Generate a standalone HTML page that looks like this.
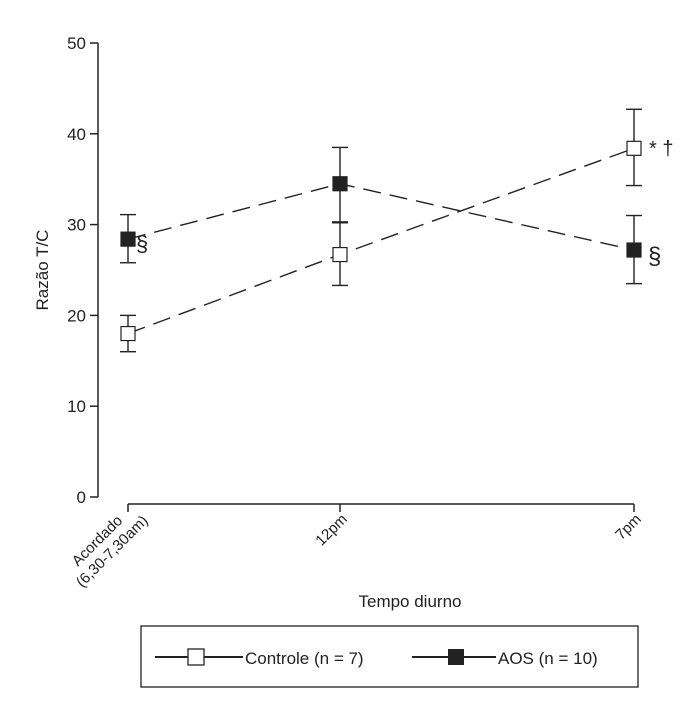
<!DOCTYPE html>
<html><head><meta charset="utf-8"><style>
body{margin:0;background:#fff;}
svg text{font-family:"Liberation Sans",sans-serif;fill:#222;}
</style></head><body>
<svg width="700" height="715">
<g id="axes"></g><g id="series"></g>
<text x="48" y="270" font-size="17" transform="rotate(-90 48 270)" text-anchor="middle">Razão T/C</text>
<text x="410" y="607" font-size="17" text-anchor="middle">Tempo diurno</text>
<text x="136" y="251" font-family="Liberation Serif" font-size="22">§</text>
<text x="649" y="155" font-size="20">* †</text>
<text x="648" y="264" font-family="Liberation Serif" font-size="24">§</text>
<g>
<rect x="141" y="626" width="497" height="61" fill="none" stroke="#222" stroke-width="1.3"/>
<line x1="155" y1="657" x2="243" y2="657" stroke="#222" stroke-width="2"/>
<rect x="188" y="649" width="16" height="16" fill="#fff" stroke="#222" stroke-width="1.3"/>
<text x="245" y="664" font-size="17">Controle (n = 7)</text>
<line x1="412" y1="657" x2="496" y2="657" stroke="#222" stroke-width="2"/>
<rect x="448" y="649" width="16" height="16" fill="#222"/>
<text x="498" y="664" font-size="17">AOS (n = 10)</text>
</g>
</svg>
<script>
const categories=["Acordado","12pm","7pm"];
const controleMean=[18,26.7,38.4];
const controleHi=[20,30.2,42.7];
const controleLo=[16,23.3,34.3];
const aosMean=[28.4,34.5,27.2];
const aosHi=[31.1,38.5,31];
const aosLo=[25.8,30.3,23.5];
const yTicks=[0,10,20,30,40,50];
const NS="http://www.w3.org/2000/svg";
const xPos=[128,340,634];
function x(i){return xPos[i];}
function y(v){return 497-v*9.08;}
function mk(tag,attrs,parent){const e=document.createElementNS(NS,tag);for(const k in attrs)e.setAttribute(k,attrs[k]);parent.appendChild(e);return e;}
const ax=document.getElementById('axes'),se=document.getElementById('series');
let l=mk('line',{x1:98,y1:y(50),x2:98,y2:y(0),stroke:'#222','stroke-width':1.5},ax);


yTicks.forEach(t=>{mk('line',{x1:90,y1:y(t),x2:98,y2:y(t),stroke:'#222','stroke-width':1.5},ax);
const tx=mk('text',{x:86,y:y(t)+6,'font-size':17,'text-anchor':'end'},ax);tx.textContent=t;

});
l=mk('line',{x1:x(0),y1:504,x2:x(2),y2:504,stroke:'#222','stroke-width':1.5},ax);


categories.forEach((c,i)=>mk('line',{x1:x(i),y1:504,x2:x(i),y2:512,stroke:'#222','stroke-width':1.5},ax));
const xl=[["Acordado","(6,30-7,30am)"],["12pm"],["7pm"]];
xl.forEach((lines,i)=>{const g=mk('text',{transform:`translate(${x(i)+8},520) rotate(-45)`,'font-size':15,'text-anchor':'end'},ax);


lines.forEach((s,j)=>{const ts=mk('tspan',{x:lines.length>1?(j==0?-10:8):0,y:lines.length>1?(j==0?-8:10):0},g);ts.textContent=s;});});
function series(mean,hi,lo,fill,name){
const pts=mean.map((v,i)=>x(i)+','+y(v)).join(' ');
const p=mk('polyline',{points:pts,fill:'none',stroke:'#222','stroke-width':1.4,'stroke-dasharray':'18,9'},se);


mean.forEach((v,i)=>{
mk('line',{x1:x(i),y1:y(hi[i]),x2:x(i),y2:y(lo[i]),stroke:'#222','stroke-width':1.4},se);
mk('line',{x1:x(i)-8,y1:y(hi[i]),x2:x(i)+8,y2:y(hi[i]),stroke:'#222','stroke-width':1.4},se);
mk('line',{x1:x(i)-8,y1:y(lo[i]),x2:x(i)+8,y2:y(lo[i]),stroke:'#222','stroke-width':1.4},se);
const r=mk('rect',{x:x(i)-7,y:y(v)-7,width:14,height:14,fill:fill,stroke:'#222','stroke-width':1.2},se);

});}
series(controleMean,controleHi,controleLo,'#fff','controle');
series(aosMean,aosHi,aosLo,'#222','aos');
</script>
</body></html>
